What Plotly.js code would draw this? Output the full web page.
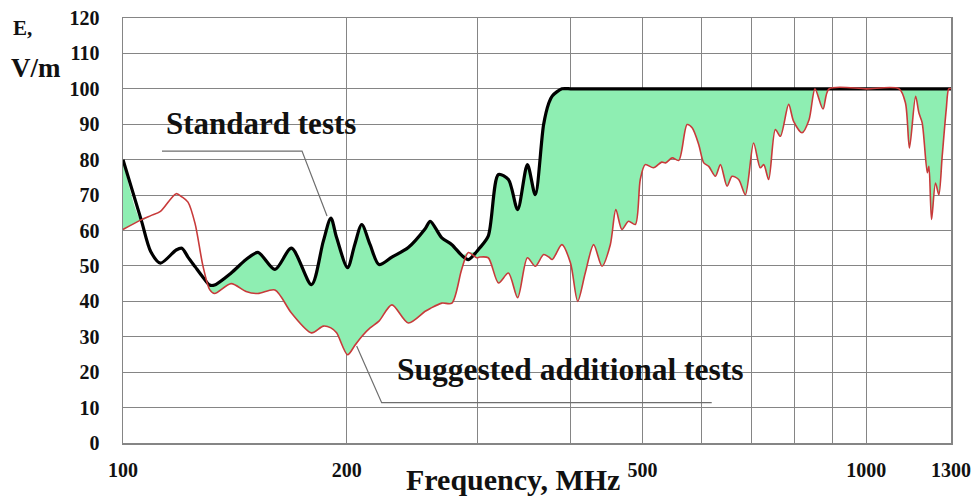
<!DOCTYPE html>
<html>
<head>
<meta charset="utf-8">
<script src="https://cdn.plot.ly/plotly-3.0.1.min.js"></script>
<style>
  html, body { margin: 0; padding: 0; background: #fff; }
  #chart { width: 978px; height: 500px; }
</style>
</head>
<body>
<div id="chart"></div>
<script>
// Frequency, MHz (common sampling for both curves)
const freq = [100,105.8,109,112.3,117.9,120,122.3,125,128.1,130.8,
  132.8,139.8,146.4,151.9,160.1,168.5,179.3,186,190.4,193.8,
  200.5,205,209.5,215,221,230,242,255,259,268.5,
  277,285.5,291.5,299,302,310,320,330,339.6,350,
  358.6,368,374,378,389.5,
  400,409,418.7,429.7,441,452.5,460.3,469,478.8,488.9,
  496.5,504.2,517.2,530.6,537,548,559.4,574,583,595,
  604.4,613.8,626.6,636.4,649.7,659.8,673.4,687.5,705.3,720,
  727.8,739,754.5,766.2,786.2,798.4,819.4,837.5,853,874.5,
  891,1000,1107,1129,1143,1165,1177,1189,1208,1214,
  1224,1239,1252,1265,1281,1291,1300];

// Standard tests, V/m
const standardTests = [80,63,54,50.8,54.5,55,52.5,49.8,46.8,44.6,
  44.6,48,51.8,53.8,49,55,44.7,57,63.5,58,
  49.5,56,61.7,56,50.4,52.5,55.2,60.5,62.6,57.9,
  56,53,51.8,54,55.1,58.4,75.8,74.4,65.9,78.6,
  70.1,89.9,96,98,100,
  100,100,100,100,100,100,100,100,100,100,
  100,100,100,100,100,100,100,100,100,100,
  100,100,100,100,100,100,100,100,100,100,
  100,100,100,100,100,100,100,100,100,100,
  100,100,100,100,100,100,100,100,100,100,
  100,100,100,100,100,100,100];

// Suggested additional tests, V/m
const suggestedTests = [60.3,63,64.2,65.4,70.4,69.5,68,62,50,43.3,
  42.2,45,42.8,42.2,43.2,36.7,31.1,33,32.5,31.1,
  24.9,27.5,30.1,32.5,34.4,39,33.9,37.2,38,39.5,
  39.5,49,53.8,52.3,52.5,52.3,45.2,48,41,52.3,
  49.9,53.2,52.5,51.8,56,
  50.8,40,48,56,49.9,56,65.9,60.3,62.6,61.7,
  74.4,78.6,77.7,79.3,79.1,80.5,79.8,89.9,89,84.3,
  79.1,78.1,75.3,78.6,72.5,75.3,74.4,70.1,84.7,77.7,
  78.6,74.4,88.5,86.6,95.6,90.8,87.6,91.3,100,94.3,
  100,100,100,96,83.3,97.9,93.2,90.4,76.3,78.1,
  63.1,73.4,70.1,81,94.2,100,100];

const xTickVals = [100,200,500,1000,1300];
const xTickText = ['100','200','500','1000','1300'];
const xMinorGrid = [300,400,600,700,800,900];
const yTickVals = [0,10,20,30,40,50,60,70,80,90,100,110,120];

const upper = standardTests.map((v, i) => Math.max(v, suggestedTests[i]));

const serif = 'Liberation Serif, Times New Roman, serif';
const green = 'rgb(142,238,178)';
const redC = '#c83a3a';
const gridC = '#858585';

const traces = [
  { x: freq, y: suggestedTests, mode: 'lines', line: {width: 0, shape: 'spline', smoothing: 0.8},
    hoverinfo: 'skip', showlegend: false },
  { x: freq, y: upper, mode: 'lines', fill: 'tonexty', fillcolor: green,
    line: {width: 0, shape: 'spline', smoothing: 0.8}, hoverinfo: 'skip', showlegend: false },
  { x: freq, y: standardTests, mode: 'lines', name: 'Standard tests',
    line: {color: '#000', width: 3.2, shape: 'spline', smoothing: 0.8}, showlegend: false },
  { x: freq, y: suggestedTests, mode: 'lines', name: 'Suggested additional tests',
    line: {color: redC, width: 1.6, shape: 'spline', smoothing: 0.8}, showlegend: false }
];

const textFont = {family: serif, size: 31, color: '#111', weight: 'bold'};

const layout = {
  width: 978, height: 500,
  margin: {l: 123, r: 27, t: 18, b: 57},
  paper_bgcolor: '#fff', plot_bgcolor: '#fff',
  showlegend: false,
  xaxis: {
    type: 'log', range: [2, Math.log10(1300)],
    tickmode: 'array', tickvals: xTickVals, ticktext: xTickText,
    showgrid: true, gridcolor: gridC, gridwidth: 1,
    minor: {tickmode: 'array', tickvals: xMinorGrid, showgrid: true, gridcolor: gridC, gridwidth: 1, ticks: ''},
    showline: true, linecolor: gridC, linewidth: 1.5, mirror: true,
    ticks: '', ticklabelstandoff: 8,
    tickfont: {family: serif, size: 20, color: '#111', weight: 'bold'},
    zeroline: false
  },
  yaxis: {
    range: [0, 120], tickmode: 'array', tickvals: yTickVals,
    showgrid: true, gridcolor: gridC, gridwidth: 1,
    showline: true, linecolor: gridC, linewidth: 1.5, mirror: true,
    ticks: '', ticklabelstandoff: 18,
    tickfont: {family: serif, size: 20, color: '#111', weight: 'bold'},
    zeroline: false
  },
  shapes: [
    {type: 'path', xref: 'paper', yref: 'paper',
     path: 'M 0.0471 0.687 L 0.2162 0.687 L 0.2464 0.534',
     line: {color: '#6e6e6e', width: 1.2}},
    {type: 'path', xref: 'paper', yref: 'paper',
     path: 'M 0.2822 0.2282 L 0.3124 0.0948 L 0.711 0.0948',
     line: {color: '#6e6e6e', width: 1.2}}
  ],
  annotations: [
    {text: 'Standard tests', xref: 'paper', yref: 'paper', x: 0.0490, y: 0.7506,
     xanchor: 'left', yanchor: 'middle', showarrow: false, font: textFont},
    {text: 'Suggested additional tests', xref: 'paper', yref: 'paper', x: 0.3280, y: 0.1718,
     xanchor: 'left', yanchor: 'middle', showarrow: false,
     font: {family: serif, size: 31.5, color: '#111', weight: 'bold'}},
    {text: 'Frequency, MHz', xref: 'paper', yref: 'paper', x: 0.471, y: -0.0870,
     xanchor: 'center', yanchor: 'middle', showarrow: false,
     font: {family: serif, size: 30, color: '#111', weight: 'bold'}},
    {text: 'E,', xref: 'paper', yref: 'paper', x: (22 - 123) / 828, y: (443 - 28) / 425,
     xanchor: 'center', yanchor: 'middle', showarrow: false,
     font: {family: serif, size: 21, color: '#111', weight: 'bold'}},
    {text: 'V/m', xref: 'paper', yref: 'paper', x: (36 - 123) / 828, y: (443 - 68) / 425,
     xanchor: 'center', yanchor: 'middle', showarrow: false,
     font: {family: serif, size: 27, color: '#111', weight: 'bold'}}
  ]
};

Plotly.newPlot('chart', traces, layout, {staticPlot: true, displayModeBar: false});
</script>
</body>
</html>
